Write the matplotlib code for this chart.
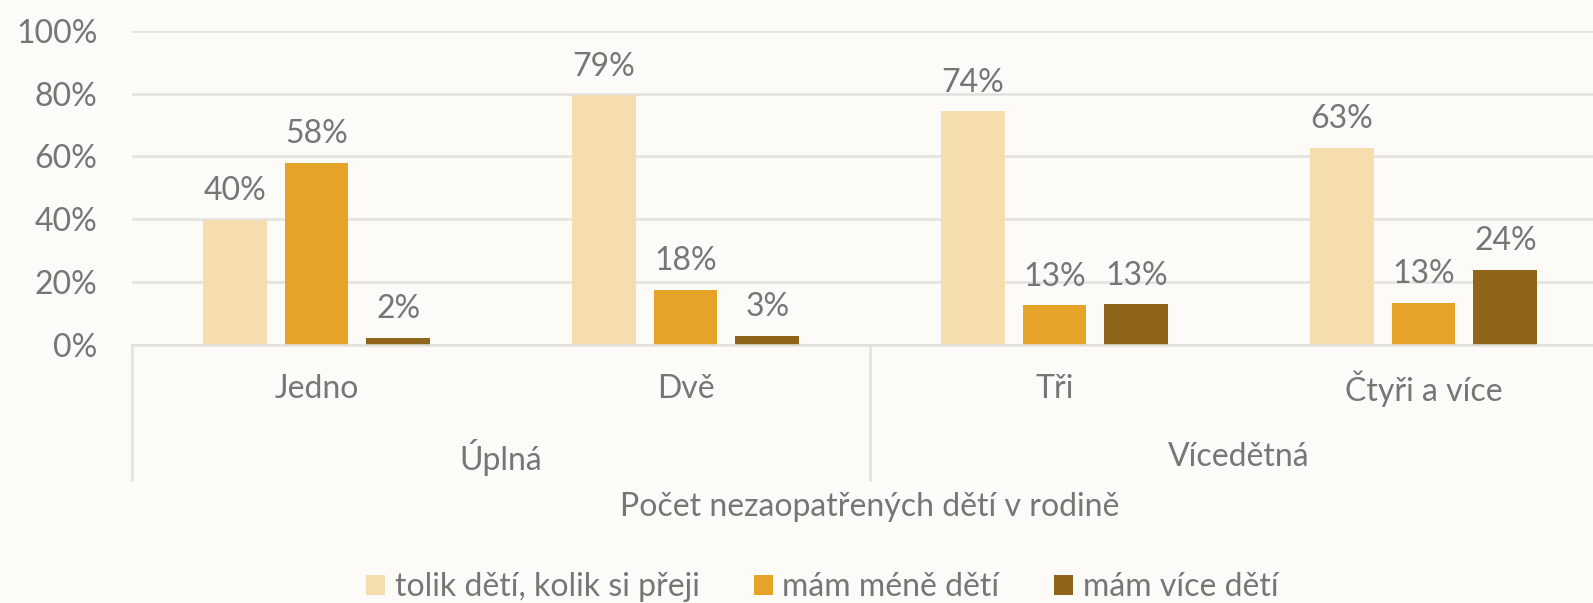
import matplotlib
matplotlib.use("Agg")
import matplotlib.pyplot as plt
import matplotlib.transforms as mtransforms
from matplotlib.patches import Patch
import numpy as np

plt.rcParams['font.family'] = ['Lato', 'DejaVu Sans']

# ---- data ----
categories = ["Jedno", "Dvě", "Tři", "Čtyři a více"]
groups = ["Úplná", "Vícedětná"]
group_spans = [(0, 1), (2, 3)]
series_names = ["tolik dětí, kolik si přeji", "mám méně dětí", "mám více dětí"]
tolik = [39.7, 79.4, 74.3, 62.8]
mene = [57.8, 17.6, 12.6, 13.3]
vice = [2.2, 3.0, 12.9, 24.0]
yticks = [0, 20, 40, 60, 80, 100]
axis_title = "Počet nezaopatřených dětí v rodině"

colors = ["#F5DDB0", "#E5A427", "#8E651A"]
text_color = "#767676"
grid_color = "#E3E1DD"
bg = "#FCFBF7"

W, H = 1593, 603
fig = plt.figure(figsize=(W / 100, H / 100), dpi=100, facecolor=bg)

left_px, right_px = 132, 1608
top_px, base_px = 30.7, 345
ax = fig.add_axes([left_px / W, 1 - base_px / H, (right_px - left_px) / W, (base_px - top_px) / H])
ax.set_facecolor(bg)

x = np.arange(len(categories))
step = 0.222
width = 0.173
fs = 23
for i, (vals, c) in enumerate(zip([tolik, mene, vice], colors)):
    xs = x + (i - 1) * step
    ax.bar(xs, vals, width=width, color=c, zorder=3, label=series_names[i])
    for xi, v in zip(xs, vals):
        ax.annotate(f"{v:.0f}%", (xi, v), xytext=(0, 10), textcoords="offset points",
                    ha="center", va="bottom", fontsize=fs, color=text_color)

ax.set_xlim(-0.5, len(categories) - 0.5)
ax.set_ylim(0, 100)
ax.set_yticks(yticks)
ax.set_yticklabels([f"{t}%" for t in yticks])
ax.tick_params(axis="y", length=0, pad=25, labelsize=fs, labelcolor=text_color)
ax.set_xticks([])
ax.grid(axis="y", color=grid_color, linewidth=1.8, zorder=0)
for s in ["top", "right", "left"]:
    ax.spines[s].set_visible(False)
ax.spines["bottom"].set_color(grid_color)
ax.spines["bottom"].set_linewidth(1.8)
ax.spines["bottom"].set_zorder(4)

trans = mtransforms.blended_transform_factory(ax.transData, fig.transFigure)
y_lvl1 = 1 - 389 / H
y_lvl2 = 1 - 457 / H
y_title = 1 - 507 / H
y_sep_top = 1 - base_px / H
y_sep_bot = 1 - 480 / H

for xi, lab in zip(x, categories):
    ax.text(xi, y_lvl1, lab, transform=trans, ha="center", va="center",
            fontsize=fs, color=text_color)
for (a, b), g in zip(group_spans, groups):
    ax.text((a + b) / 2, y_lvl2, g, transform=trans, ha="center", va="center",
            fontsize=fs, color=text_color)
sep_positions = [-0.5, 1.5, 3.5]
for sx in sep_positions:
    ax.plot([sx, sx], [y_sep_top, y_sep_bot], transform=trans, color=grid_color,
            linewidth=1.8, clip_on=False)

fig.text(870 / W, y_title, axis_title, ha="center", va="center", fontsize=fs, color=text_color)

handles = [Patch(facecolor=c, edgecolor="none") for c in colors]
fig.legend(handles, series_names, loc="center", bbox_to_anchor=(822 / W, 1 - 587 / H),
           ncol=3, frameon=False, fontsize=fs, labelcolor=text_color,
           handlelength=0.6, handleheight=0.6, handletextpad=0.3, columnspacing=1.7)

fig.savefig("out.png", dpi=100, facecolor=bg)
